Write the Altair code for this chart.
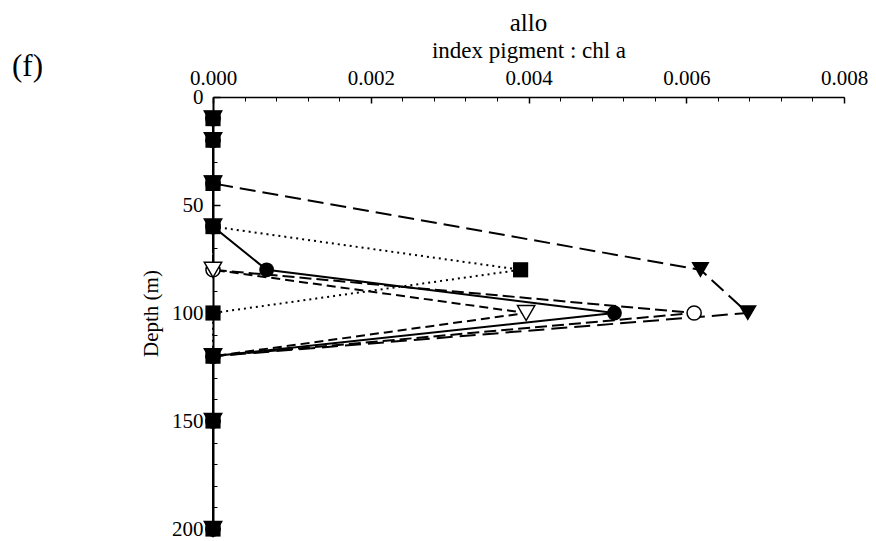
import altair as alt
import pandas as pd

# ---- data ----
depths = [10, 20, 40, 60, 80, 100, 120, 150, 200]
open_circle = [0, 0, 0, 0, 0, 0.0061, 0, 0, 0]
open_triangle = [0, 0, 0, 0, 0, 0.00397, 0, 0, 0]
filled_triangle = [0, 0, 0, None, 0.00618, 0.00678, 0, 0, 0]
filled_square = [0, 0, 0, 0, 0.0039, 0, 0, 0, 0]
filled_circle = [0, 0, 0, 0, 0.00068, 0.00509, 0, 0, 0]

x_major = [0.0, 0.002, 0.004, 0.006, 0.008]
x_minor = [0.0, 0.0004, 0.0008, 0.0012, 0.0016, 0.002, 0.0024, 0.0028, 0.0032,
           0.0036, 0.004, 0.0044, 0.0048, 0.0052, 0.0056, 0.006, 0.0064, 0.0068,
           0.0072, 0.0076, 0.008]
y_major = [0, 50, 100, 150, 200]
y_minor = [0, 10, 20, 30, 40, 50, 60, 70, 80, 90, 100, 110, 120, 130, 140, 150,
           160, 170, 180, 190, 200]

chart_title = "allo"
x_title = "index pigment : chl a"
y_title = "Depth (m)"
panel_label = ["(f)"]

FONT = "Liberation Serif"

series = [
    ("open_circle", open_circle, "circle", False, [12, 5]),
    ("open_triangle", open_triangle, "triangle-down", False, [9, 5]),
    ("filled_triangle", filled_triangle, "triangle-down", True, [16, 7]),
    ("filled_square", filled_square, "square", True, [2, 4]),
    ("filled_circle", filled_circle, "circle", True, None),
]

rows = []
for name, vals, *_ in series:
    for d, v in zip(depths, vals):
        if v is not None:
            rows.append({"series": name, "depth": d, "value": v})
df = pd.DataFrame(rows)

XS = alt.Scale(domain=[0, 0.008], nice=False, zero=False)
YS = alt.Scale(domain=[0, 200], reverse=True, nice=False, zero=False)


def enc_no_axis(ch):
    return ch.encode(
        x=alt.X("value:Q", scale=XS, axis=None),
        y=alt.Y("depth:Q", scale=YS, axis=None),
        order="depth:Q",
    )


layers = []
# axis: labels + domain + titles
layers.append(
    alt.Chart(df).mark_point(opacity=0).encode(
        x=alt.X("value:Q", scale=XS, axis=alt.Axis(
            orient="top", values=x_major, format=".3f", ticks=False, tickSize=0,
            domain=True, domainColor="black", domainWidth=1.5, grid=False,
            labelFont=FONT, labelFontSize=21, labelColor="black", labelPadding=9,
            labelFlush=False, labelOverlap=False,
            title=x_title, titleFont=FONT, titleFontSize=23, titleFontWeight="normal",
            titleColor="black", titlePadding=5)),
        y=alt.Y("depth:Q", scale=YS, axis=alt.Axis(
            orient="left", values=y_major, format="d", ticks=False, tickSize=0,
            domain=True, domainColor="black", domainWidth=2, grid=False,
            labelFont=FONT, labelFontSize=21, labelColor="black", labelPadding=10,
            labelOverlap=False,
            title=y_title, titleFont=FONT, titleFontSize=21, titleFontWeight="normal",
            titleColor="black", titlePadding=10)),
    )
)
# major ticks (inward)
layers.append(
    alt.Chart(df).mark_point(opacity=0).encode(
        x=alt.X("value:Q", scale=XS, axis=alt.Axis(
            orient="top", values=x_major, labels=False, domain=False, grid=False,
            tickSize=6, tickWidth=1.5, tickColor="black", offset=-6, title="")),
        y=alt.Y("depth:Q", scale=YS, axis=alt.Axis(
            orient="left", values=y_major, labels=False, domain=False, grid=False,
            tickSize=7, tickWidth=1.5, tickColor="black", offset=-7, title="")),
    )
)
# minor ticks (inward)
layers.append(
    alt.Chart(df).mark_point(opacity=0).encode(
        x=alt.X("value:Q", scale=XS, axis=alt.Axis(
            orient="top", values=x_minor, labels=False, domain=False, grid=False,
            tickSize=4, tickWidth=1, tickColor="black", offset=-4, title="")),
        y=alt.Y("depth:Q", scale=YS, axis=alt.Axis(
            orient="left", values=y_minor, labels=False, domain=False, grid=False,
            tickSize=4, tickWidth=1, tickColor="black", offset=-4, title="")),
    )
)

# lines
for name, vals, shape, filled, dash in series:
    kw = dict(color="black", strokeWidth=2)
    if dash is not None:
        kw["strokeDash"] = dash
    layers.append(
        enc_no_axis(
            alt.Chart(df).transform_filter(alt.datum.series == name).mark_line(**kw)
        )
    )

# markers
for name, vals, shape, filled, dash in series:
    if filled:
        size = {"circle": 220, "square": 230, "triangle-down": 330}[shape]
        mk = alt.Chart(df).transform_filter(alt.datum.series == name).mark_point(
            shape=shape, filled=True, color="black", opacity=1, size=size)
    else:
        size = {"circle": 200, "triangle-down": 300}[shape]
        mk = alt.Chart(df).transform_filter(alt.datum.series == name).mark_point(
            shape=shape, filled=True, fill="white", stroke="black", strokeWidth=1.5,
            opacity=1, size=size)
    layers.append(enc_no_axis(mk))

# panel label
layers.append(
    alt.Chart(pd.DataFrame({"label": panel_label})).mark_text(
        font=FONT, fontSize=31, align="left", baseline="middle", color="black"
    ).encode(x=alt.value(-201), y=alt.value(-30), text="label:N")
)

chart = (
    alt.layer(*layers)
    .resolve_axis(x="independent", y="independent")
    .properties(
        width=631,
        height=432,
        title=alt.TitleParams(chart_title, font=FONT, fontSize=25, fontWeight="normal",
                              color="black", anchor="middle", offset=3),
        autosize=alt.AutoSizeParams(type="none"),
        padding={"left": 205, "top": 89, "right": 24, "bottom": 12},
        background="white",
    )
    .configure_view(stroke=None)
)

chart.save("out.html", embed_options={"renderer": "svg", "actions": False})
